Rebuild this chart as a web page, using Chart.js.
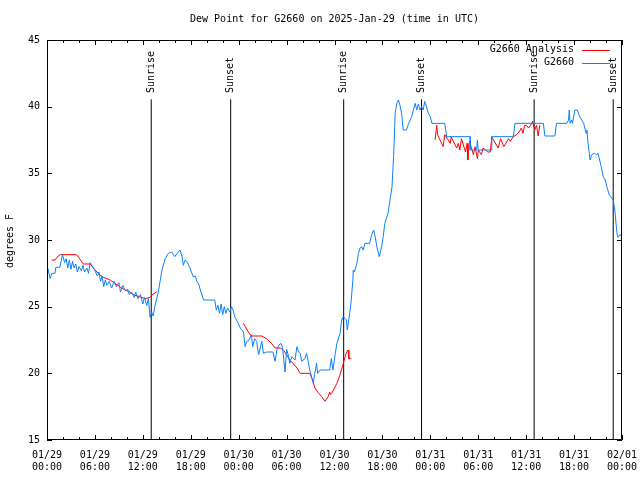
<!DOCTYPE html>
<html>
<head>
<meta charset="utf-8">
<script src="https://cdn.jsdelivr.net/npm/chart.js@4/dist/chart.umd.min.js"></script>
<style>
  html, body { margin: 0; padding: 0; background: #fff; }
</style>
</head>
<body>
<canvas id="chart" width="640" height="480"></canvas>
<script>
const titleText = "Dew Point for G2660 on 2025-Jan-29 (time in UTC)";
const yTitle = "degrees F";

// x axis is hours since 01/29 00:00 UTC
const xTickLabels = [
  ["01/29", "00:00"], ["01/29", "06:00"], ["01/29", "12:00"], ["01/29", "18:00"],
  ["01/30", "00:00"], ["01/30", "06:00"], ["01/30", "12:00"], ["01/30", "18:00"],
  ["01/31", "00:00"], ["01/31", "06:00"], ["01/31", "12:00"], ["01/31", "18:00"],
  ["02/01", "00:00"]
];
const yTicks = [15, 20, 25, 30, 35, 40, 45];

const sunHours = [13.05, 23.0, 37.15, 46.9, 61.0, 70.9];
const sunLabels = ["Sunrise", "Sunset", "Sunrise", "Sunset", "Sunrise", "Sunset"];
const sunLineTop = 40.55;

// G2660 observations
const obsHours = [
  0.1, 0.4, 0.6, 1.0, 1.1, 1.6, 1.95, 2.2, 2.4, 2.6, 2.8, 3.0, 3.2, 3.4, 3.6, 3.8, 4.0, 4.3, 4.5, 4.7,
  5.0, 5.2, 5.4, 5.8, 6.0, 6.3, 6.5, 6.7, 6.9, 7.1, 7.3, 7.5, 7.8, 8.1, 8.4, 8.7, 9.0, 9.2, 9.5, 9.8,
  10.1, 10.3, 10.6, 10.9, 11.1, 11.4, 11.7, 12.0, 12.2, 12.5, 12.7, 12.9, 13.1, 13.3, 13.5, 13.9, 14.4, 14.8, 15.2, 15.6,
  16.0, 16.3, 16.65, 16.9, 17.07, 17.3, 17.5, 17.9, 18.3, 18.6, 18.75, 19.0, 19.2, 19.6, 20.0, 21.0, 21.2, 21.4, 21.6, 21.8,
  22.0, 22.2, 22.4, 22.6, 22.9, 23.1, 23.3, 23.5, 23.95, 24.2, 24.6, 24.8, 25.0, 25.3, 25.6, 25.75, 26.0, 26.25, 26.5, 26.9,
  27.1, 27.5, 28.3, 28.55, 28.8, 29.0, 29.3, 29.5, 29.8, 30.0, 30.2, 30.4, 30.65, 31.05, 31.3, 31.5, 31.7, 31.9, 32.3, 32.5,
  32.7, 32.9, 33.35, 33.5, 33.75, 33.9, 34.2, 35.4, 35.6, 35.8, 36.1, 36.3, 36.7, 36.9, 37.1, 37.5, 37.6, 37.9, 38.1, 38.3,
  38.35, 38.5, 38.8, 39.0, 39.2, 39.4, 39.6, 39.8, 40.4, 40.65, 40.9, 41.1, 41.3, 41.6, 41.9, 42.1, 42.3, 42.7, 42.95, 43.2,
  43.4, 43.6, 43.8, 44.0, 44.2, 44.4, 44.6, 45.0, 45.2, 45.65, 46.1, 46.3, 46.5, 46.7, 46.9, 47.1, 47.3, 47.75, 48.0, 48.2,
  49.8, 50.05, 53.0, 53.0, 53.8, 53.9, 54.0, 55.7, 55.7, 58.4, 58.6, 62.15, 62.35, 63.6, 63.8, 65.1, 65.3, 65.4, 65.5, 65.7,
  65.8, 66.1, 66.4, 66.7, 67.2, 67.4, 67.5, 67.6, 67.75, 67.9, 68.0, 68.2, 68.6, 68.8, 69.0, 69.2, 69.4, 69.65, 69.9, 70.15,
  70.4, 70.6, 70.9, 71.1, 71.25, 71.4, 71.5, 71.75, 71.9
];
const obsValues = [
  27.9, 27.1, 27.5, 27.5, 27.95, 27.95, 28.9, 28.3, 28.6, 27.9, 28.5, 27.8, 28.4, 27.9, 28.2, 27.6, 28.0, 27.7, 28.1, 27.6,
  27.9, 27.5, 28.3, 27.9, 27.7, 27.3, 27.6, 26.9, 27.3, 26.5, 27.0, 26.6, 26.9, 26.4, 26.9, 26.5, 26.8, 26.1, 26.6, 26.2,
  26.3, 25.9, 26.1, 25.7, 26.1, 25.6, 25.9, 25.2, 25.7, 25.1, 25.6, 24.2, 24.6, 24.3, 25.0, 26.0, 27.75, 28.6, 29.0, 29.1,
  28.75, 29.0, 29.25, 28.8, 28.1, 28.5, 28.4, 27.9, 27.25, 27.3, 26.9, 26.7, 26.25, 25.5, 25.5, 25.5, 24.75, 25.1, 24.5, 25.2,
  24.4, 25.0, 24.5, 24.9, 24.6, 25.0, 24.75, 24.25, 23.75, 23.4, 23.1, 22.0, 22.4, 22.5, 22.9, 22.0, 22.6, 22.4, 21.4, 22.4,
  21.5, 21.6, 21.6, 20.9, 21.8, 22.1, 22.25, 21.9, 20.1, 21.8, 21.4, 20.75, 21.25, 21.0, 22.0, 21.6, 21.5, 20.9, 21.1, 21.5,
  20.9, 20.25, 19.25, 19.9, 20.75, 20.0, 20.25, 20.25, 21.1, 20.25, 21.5, 22.25, 23.0, 24.0, 24.25, 24.0, 23.25, 24.5, 25.5, 27.0,
  27.75, 27.6, 28.25, 29.0, 29.4, 29.5, 29.25, 29.75, 29.75, 30.4, 30.75, 30.25, 29.5, 28.75, 29.5, 30.25, 31.25, 32.0, 33.0, 34.0,
  36.25, 39.5, 40.25, 40.5, 40.1, 39.5, 38.25, 38.25, 38.6, 39.25, 40.25, 39.75, 40.2, 39.75, 40.0, 39.75, 40.4, 39.5, 39.25, 38.75,
  38.75, 37.75, 37.75, 36.75, 36.75, 37.5, 36.75, 36.75, 37.75, 37.75, 38.75, 38.75, 37.8, 37.8, 38.75, 38.75, 39.0, 39.75, 38.75, 39.0,
  38.75, 39.75, 39.75, 39.25, 38.75, 38.25, 38.0, 38.25, 37.25, 36.5, 36.0, 36.4, 36.5, 36.4, 36.5, 36.0, 35.5, 34.75, 34.5, 33.9,
  33.4, 33.25, 33.0, 32.25, 31.25, 30.4, 30.2, 30.4, 30.3
];

// G2660 Analysis (null = gap)
const anaHours = [
  0.6, 1.0, 1.4, 1.67, 3.7, 4.2, 4.55, 5.4, 5.8, 6.4, 7.05, 7.5, 7.9, 8.5, 9.1, 9.75, 10.4, 10.8, 11.6, 12.3,
  12.9, 13.3, 13.7, 19.0,
  24.6, 25.2, 25.6, 26.9, 27.5, 28.1, 28.55, 29.2, 29.6, 30.0, 30.4, 30.8, 31.3, 31.7, 32.9, 33.25, 33.55, 33.9, 34.4, 34.8,
  35.2, 35.4, 35.5, 35.65, 36.3, 36.7, 37.1, 37.5, 37.7, 37.8, 38.1, 43.0,
  48.6, 48.8, 48.9, 49.6, 49.8, 50.5, 50.6, 51.3, 51.5, 51.7, 51.9, 52.4, 52.6, 52.7, 52.9, 53.4, 53.6, 53.9, 54.0, 54.4,
  54.6, 55.2, 55.5, 55.7, 55.9, 56.5, 56.8, 57.2, 57.8, 58.0, 58.4, 58.8, 59.1, 59.4, 59.6, 59.8, 60.05, 60.3, 60.7, 60.8,
  61.0, 61.1, 61.3, 61.5, 61.7
];
const anaValues = [
  28.5, 28.5, 28.8, 28.9, 28.9, 28.5, 28.2, 28.2, 27.9, 27.5, 27.2, 27.1, 27.0, 26.75, 26.5, 26.25, 26.1, 25.9, 25.75, 25.6,
  25.7, 25.95, 26.1, null,
  23.75, 23.1, 22.8, 22.8, 22.6, 22.25, 21.9, 21.9, 21.75, 21.4, 21.0, 20.75, 20.4, 20.0, 20.0, 19.5, 18.9, 18.6, 18.25, 17.9,
  18.25, 18.6, 18.4, 18.5, 19.25, 19.9, 20.75, 21.6, 21.75, 21.1, 21.1, null,
  37.5, 38.6, 37.9, 37.0, 37.9, 37.25, 37.75, 36.9, 37.25, 36.75, 37.6, 36.6, 37.25, 36.0, 37.4, 36.4, 37.0, 36.1, 36.75, 36.4,
  36.9, 36.6, 36.6, 37.75, 37.5, 36.9, 37.6, 37.0, 37.6, 37.4, 37.75, 37.9, 38.1, 38.4, 38.0, 38.6, 38.6, 38.4, 38.75, 38.9,
  38.4, 38.3, 38.6, 37.8, 38.6
];

const FONT = "'DejaVu Sans Mono', 'Liberation Mono', monospace";
const RED = "#ff0000";
const BLUE = "#0a80ff";

const toPoints = (xs, ys) => xs.map((x, i) => ({ x: x, y: ys[i] }));

const sunPoints = [];
sunHours.forEach((h) => {
  sunPoints.push({ x: h, y: 15 }, { x: h, y: sunLineTop }, { x: h, y: null });
});

// gnuplot look: frame, inward ticks, title, legend, sun labels
const gnuplotDecor = {
  id: "gnuplotDecor",
  afterDraw(chart) {
    const ctx = chart.ctx;
    const a = chart.chartArea;
    const xs = chart.scales.x;
    const ys = chart.scales.y;
    ctx.save();
    ctx.strokeStyle = "#000";
    ctx.lineWidth = 1;
    ctx.beginPath();
    // frame
    ctx.rect(Math.round(a.left) + 0.5, Math.round(a.top) + 0.5,
      Math.round(a.right - a.left) - 1, Math.round(a.bottom - a.top) - 1);
    // x ticks, every 2 hours, major every 6
    for (let h = 0; h <= 72; h += 2) {
      const px = Math.round(xs.getPixelForValue(h)) + 0.5;
      const len = h % 6 === 0 ? 5 : 3;
      ctx.moveTo(px, a.bottom);
      ctx.lineTo(px, a.bottom - len);
      ctx.moveTo(px, a.top);
      ctx.lineTo(px, a.top + len);
    }
    yTicks.forEach((v) => {
      const py = Math.round(ys.getPixelForValue(v)) + 0.5;
      ctx.moveTo(a.left, py);
      ctx.lineTo(a.left + 5, py);
      ctx.moveTo(a.right, py);
      ctx.lineTo(a.right - 5, py);
    });
    ctx.stroke();

    ctx.fillStyle = "#000";
    ctx.font = "10px " + FONT;
    ctx.textAlign = "center";
    ctx.textBaseline = "middle";
    ctx.fillText(titleText, (a.left + a.right) / 2, 19);

    // y title
    ctx.save();
    ctx.translate(10, 241);
    ctx.rotate(-Math.PI / 2);
    ctx.fillText(yTitle, 0, 0);
    ctx.restore();

    // sun labels
    sunHours.forEach((h, i) => {
      ctx.save();
      ctx.translate(xs.getPixelForValue(h), 93);
      ctx.rotate(-Math.PI / 2);
      ctx.textAlign = "left";
      ctx.fillText(sunLabels[i], 0, 0);
      ctx.restore();
    });

    // legend
    const legendItems = [
      { label: chart.data.datasets[1].label, color: chart.data.datasets[1].borderColor, y: 49.5 },
      { label: chart.data.datasets[0].label, color: chart.data.datasets[0].borderColor, y: 62.5 }
    ];
    legendItems.forEach((it) => {
      ctx.textAlign = "right";
      ctx.fillStyle = "#000";
      ctx.fillText(it.label, 574, it.y);
      ctx.strokeStyle = it.color;
      ctx.beginPath();
      ctx.moveTo(582, Math.round(it.y) + 0.5);
      ctx.lineTo(610, Math.round(it.y) + 0.5);
      ctx.stroke();
    });
    ctx.restore();
  }
};

new Chart(document.getElementById("chart").getContext("2d"), {
  type: "line",
  data: {
    datasets: [
      {
        label: "G2660",
        data: toPoints(obsHours, obsValues),
        borderColor: BLUE,
        borderWidth: 1,
        pointRadius: 0,
        tension: 0,
        order: 0
      },
      {
        label: "G2660 Analysis",
        data: toPoints(anaHours, anaValues),
        borderColor: RED,
        borderWidth: 1,
        pointRadius: 0,
        tension: 0,
        spanGaps: false,
        order: 1
      },
      {
        label: "sun",
        data: sunPoints,
        borderColor: "#000",
        borderWidth: 1,
        pointRadius: 0,
        spanGaps: false,
        order: 2
      }
    ]
  },
  options: {
    responsive: false,
    animation: false,
    events: [],
    layout: { padding: { top: 40, right: 18, left: 0, bottom: 0 } },
    plugins: {
      legend: { display: false },
      tooltip: { enabled: false },
      title: { display: false }
    },
    scales: {
      x: {
        type: "linear",
        min: 0,
        max: 72,
        grid: { display: false, drawTicks: false },
        border: { display: false },
        afterBuildTicks: (s) => {
          s.ticks = xTickLabels.map((_, i) => ({ value: i * 6 }));
        },
        afterFit: (s) => {
          s.height = 40;
          s.paddingLeft = 0;
          s.paddingRight = 0;
        },
        ticks: {
          autoSkip: false,
          maxRotation: 0,
          minRotation: 0,
          padding: 9,
          color: "#000",
          font: { family: FONT, size: 10, lineHeight: 1.2 },
          callback: (v) => xTickLabels[Math.round(v / 6)]
        }
      },
      y: {
        min: 15,
        max: 45,
        grid: { display: false, drawTicks: false },
        border: { display: false },
        afterBuildTicks: (s) => {
          s.ticks = yTicks.map((v) => ({ value: v }));
        },
        afterFit: (s) => {
          s.width = 47;
          s.paddingTop = 0;
          s.paddingBottom = 0;
        },
        ticks: {
          padding: 7,
          color: "#000",
          font: { family: FONT, size: 10 }
        }
      }
    }
  },
  plugins: [gnuplotDecor]
});
</script>
</body>
</html>
